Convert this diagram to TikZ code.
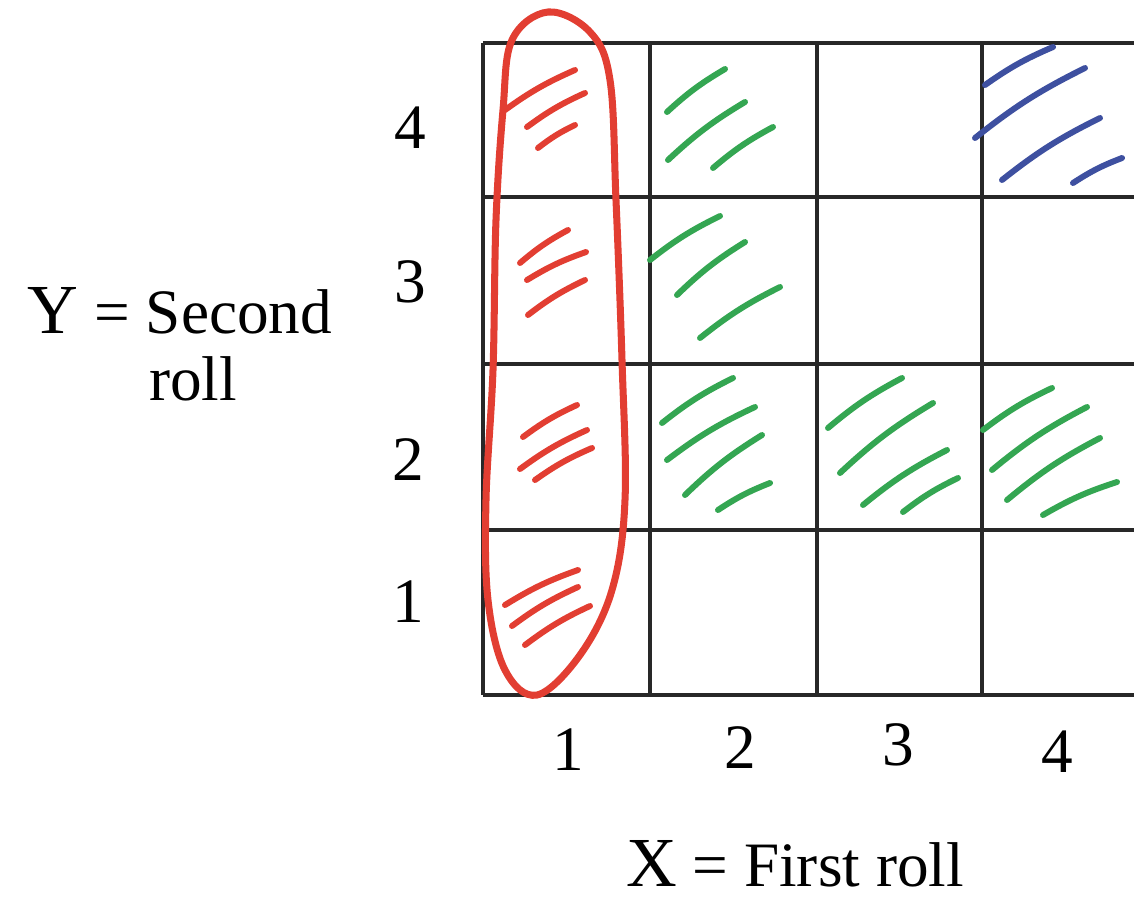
\documentclass[tikz,border=0pt]{standalone}
\usepackage{fontspec}
\setmainfont{Liberation Serif}
\usepackage{tikz}
\usepackage{xcolor}

\definecolor{penred}{RGB}{226,62,50}
\definecolor{pengreen}{RGB}{52,166,82}
\definecolor{penblue}{RGB}{62,80,160}
\definecolor{gridgray}{RGB}{40,40,40}

\begin{document}
\begin{tikzpicture}[x=0.02cm, y=-0.02cm, font=\fontsize{36}{40}\selectfont,
    gridline/.style={draw=gridgray, line width=1.8pt},
    hatch/.style={line width=3.4pt, line cap=round},
    lbl/.style={anchor=base, inner sep=0pt}]
  \useasboundingbox (0,0) rectangle (1134,897);
  % === Mrizka ===
  \foreach \xx in {483,650,817,982}
    \draw[gridline] (\xx,43) -- (\xx,695);
  \foreach \yy in {43,197,364,530,695}
    \draw[gridline] (483,\yy) -- (1134,\yy);
  % === Popisky os ===
  \foreach \nm/\xx/\yy in {1/408/622, 2/408/480, 3/410/302, 4/410/148}
    \node[lbl] (row\nm) at (\xx,\yy) {\nm};
  \foreach \nm/\xx/\yy in {1/568/770, 2/740/768, 3/898/765, 4/1057/772}
    \node[lbl] (col\nm) at (\xx,\yy) {\nm};
  \node[lbl] (ylab) at (180,333) {{\fontsize{40}{44}\selectfont Y} = Second};
  \node[lbl] (ylab2) at (193,400) {roll};
  \node[lbl] (xlab) at (795,886) {{\fontsize{40}{44}\selectfont X} = First roll};
  % === Sloupec X = 1 (cervene) ===
  \foreach \a/\b/\c/\d in {505/110/575/70, 527/127/585/93, 538/148/575/125,
      520/263/568/230, 527/280/586/252, 528/315/585/280,
      523/437/577/405, 520/469/587/430, 535/480/592/448,
      505/605/578/570, 512/626/578/587, 525/645/590/606}
    \draw[hatch, penred] (\a,\b) to[bend left=6] (\c,\d);
  \draw[penred, line width=4pt] plot[smooth cycle, tension=0.6] coordinates {
      (548,12) (590,32) (610,80) (616,200) (622,360) (625,500) (612,590)
      (580,655) (537,695) (505,670) (488,600) (486,500) (493,370)
      (496,220) (503,110) (512,40)};
  % === Zelene bunky ===
  \foreach \a/\b/\c/\d in {667/112/725/69, 668/160/745/102, 713/168/773/127,
      650/260/720/216, 677/295/745/242, 700/338/780/287,
      662/423/733/378, 667/460/755/407, 685/495/762/435, 718/510/770/483,
      828/428/902/378, 840/473/933/403, 863/505/947/450, 903/512/958/478,
      983/430/1052/388, 992/470/1087/407, 1007/500/1100/438, 1043/515/1117/482}
    \draw[hatch, pengreen] (\a,\b) to[bend left=6] (\c,\d);
  % === Modra bunka (4,4) ===
  \foreach \a/\b/\c/\d in {985/85/1053/47, 975/138/1085/68,
      1002/180/1100/118, 1073/183/1122/158}
    \draw[hatch, penblue] (\a,\b) to[bend left=6] (\c,\d);
\end{tikzpicture}
\end{document}
